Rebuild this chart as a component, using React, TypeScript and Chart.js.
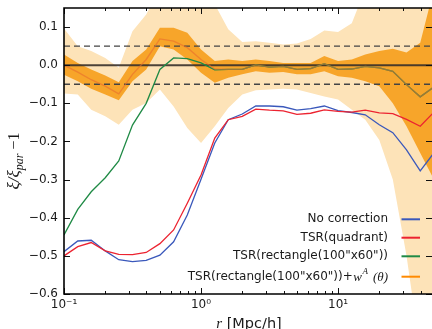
import React, { useEffect, useRef } from 'react';
import { Chart, registerables } from 'chart.js';

Chart.register(...registerables);

// ---- data ----
const R = [0.1, 0.126, 0.158, 0.2, 0.251, 0.316, 0.398, 0.501, 0.631, 0.794, 1.0, 1.26, 1.58, 2.0, 2.51, 3.16, 3.98, 5.01, 6.31, 7.94, 10.0, 12.6, 15.8, 20.0, 25.1, 31.6, 39.8, 50.1];

const NO_CORRECTION = [-0.489, -0.461, -0.459, -0.487, -0.510, -0.515, -0.512, -0.498, -0.463, -0.393, -0.299, -0.204, -0.143, -0.128, -0.107, -0.107, -0.109, -0.118, -0.114, -0.107, -0.119, -0.124, -0.130, -0.156, -0.177, -0.222, -0.277, -0.23];
const TSR_QUADRANT = [-0.500, -0.476, -0.465, -0.487, -0.496, -0.497, -0.491, -0.468, -0.432, -0.362, -0.288, -0.191, -0.143, -0.134, -0.115, -0.118, -0.120, -0.129, -0.126, -0.117, -0.121, -0.123, -0.118, -0.125, -0.127, -0.142, -0.160, -0.123];
const TSR_RECT = [-0.445, -0.378, -0.332, -0.295, -0.251, -0.157, -0.100, -0.011, 0.019, 0.017, 0.006, -0.012, -0.011, -0.011, 0.001, -0.005, -0.003, -0.011, -0.009, 0.004, -0.011, -0.010, -0.003, -0.007, -0.016, -0.051, -0.083, -0.057];
const TSR_RECT_WA = [0.0, -0.018, -0.038, -0.055, -0.075, -0.024, 0.015, 0.069, 0.063, 0.046, 0.015, -0.010, -0.011, -0.011, 0.001, -0.005, -0.003, -0.011, -0.009, 0.004, -0.011, -0.010, -0.003, -0.007, -0.016, -0.051, -0.083, -0.057];
const WA_INNER_HI = [0.028, 0.006, -0.011, -0.027, -0.045, 0.011, 0.041, 0.098, 0.098, 0.085, 0.041, 0.011, 0.015, 0.011, 0.015, 0.011, 0.006, 0.006, 0.006, 0.024, 0.011, 0.015, 0.028, 0.037, 0.043, 0.033, 0.059, 0.20];
const WA_INNER_LO = [-0.025, -0.042, -0.062, -0.077, -0.092, -0.042, -0.011, 0.050, 0.041, 0.015, -0.020, -0.046, -0.033, -0.024, -0.016, -0.020, -0.018, -0.024, -0.024, -0.016, -0.029, -0.033, -0.042, -0.055, -0.10, -0.16, -0.23, -0.30];
const WA_OUTER_HI = [0.096, 0.050, 0.037, 0.019, -0.007, 0.089, 0.133, 0.2, 0.2, 0.2, 0.2, 0.16, 0.094, 0.061, 0.063, 0.059, 0.054, 0.057, 0.069, 0.091, 0.087, 0.110, 0.2, 0.2, 0.2, 0.2, 0.2, 0.2];
const WA_OUTER_LO = [-0.074, -0.077, -0.117, -0.134, -0.156, -0.117, -0.099, -0.064, -0.108, -0.165, -0.204, -0.160, -0.112, -0.077, -0.066, -0.064, -0.062, -0.064, -0.073, -0.082, -0.090, -0.117, -0.143, -0.196, -0.30, -0.50, -0.75, -0.9];

const REF_ZERO = 0;
const REF_TOL = 0.05;

const X_MIN = 0.1;
const X_MAX = 48.5;
const Y_MIN = -0.6;
const Y_MAX = 0.15;
const X_TICKS = [0.1, 1, 10];
const X_TICK_LABELS = ['10\u207B\u00B9', '10\u2070', '10\u00B9'];
const X_MINOR_MULT = [2, 3, 4, 5, 6, 7, 8, 9];
const Y_TICKS = [0.1, 0.0, -0.1, -0.2, -0.3, -0.4, -0.5, -0.6];
const Y_TICK_LABELS = ['0.1', '0.0', '\u22120.1', '\u22120.2', '\u22120.3', '\u22120.4', '\u22120.5', '\u22120.6'];

const LEGEND_LABELS = ['No correction', 'TSR(quadrant)', 'TSR(rectangle(100"x60"))', 'TSR(rectangle(100"x60"))+'];

const C_BLUE = '#3a58bb';
const C_RED = '#ec2330';
const C_GREEN = '#1f8a45';
const C_ORANGE = '#ff8a00';
const C_LIGHT = '#fde3b8';
const C_DARK = '#f7a52a';

const SANS = '"DejaVu Sans", sans-serif';
const SERIF_IT = 'italic 15px "Liberation Serif", serif';

export default function App() {
  const ref = useRef<HTMLCanvasElement | null>(null);

  useEffect(() => {
    const canvas = ref.current;
    if (!canvas) return;
    const pts = (vals: number[]) => R.map((x, i) => ({ x, y: vals[i] }));
    const flat = (v: number) => R.map((x) => ({ x, y: v }));

    const decor = {
      id: 'decor',
      afterDraw(chart: any) {
        const ctx = chart.ctx as CanvasRenderingContext2D;
        const a = chart.chartArea;
        const xs = chart.scales.x;
        const ys = chart.scales.y;
        ctx.save();
        // ticks
        ctx.strokeStyle = '#111';
        ctx.lineWidth = 1;
        const vtick = (v: number, len: number) => {
          const px = Math.round(xs.getPixelForValue(v)) + 0.5;
          ctx.beginPath();
          ctx.moveTo(px, a.bottom);
          ctx.lineTo(px, a.bottom - len);
          ctx.moveTo(px, a.top);
          ctx.lineTo(px, a.top + len);
          ctx.stroke();
        };
        X_TICKS.forEach((d) => {
          vtick(d, 6);
          X_MINOR_MULT.forEach((m) => {
            if (d * m <= X_MAX) vtick(d * m, 3);
          });
        });
        Y_TICKS.forEach((v) => {
          const py = Math.round(ys.getPixelForValue(v)) + 0.5;
          ctx.beginPath();
          ctx.moveTo(a.left, py);
          ctx.lineTo(a.left + 6, py);
          ctx.moveTo(a.right, py);
          ctx.lineTo(a.right - 6, py);
          ctx.stroke();
        });
        // spines
        ctx.strokeStyle = '#000';
        ctx.lineWidth = 1.6;
        ctx.beginPath();
        ctx.moveTo(a.right + 2, a.top);
        ctx.lineTo(a.left, a.top);
        ctx.lineTo(a.left, a.bottom);
        ctx.lineTo(a.right + 2, a.bottom);
        ctx.stroke();

        // legend
        ctx.fillStyle = '#1a1a1a';
        ctx.textBaseline = 'middle';
        const rows = [219.3, 237.7, 256.3, 276.7];
        const cols = [C_BLUE, C_RED, C_GREEN, C_ORANGE];
        const textRight = 388;
        ctx.font = `12px ${SANS}`;
        ctx.textAlign = 'right';
        for (let i = 0; i < 3; i++) ctx.fillText(LEGEND_LABELS[i], textRight, rows[i]);
        // last row, composed right-to-left
        {
          let xr = textRight;
          const y = rows[3];
          ctx.font = 'italic 13px "Liberation Serif", serif';
          ctx.fillText('(\u03B8)', xr, y + 0.5);
          xr -= ctx.measureText('(\u03B8)').width + 5;
          ctx.font = 'italic 9px "Liberation Serif", serif';
          ctx.fillText('A', xr, y - 5);
          xr -= ctx.measureText('A').width + 0.5;
          ctx.font = 'italic 13px "Liberation Serif", serif';
          ctx.fillText('w', xr, y + 1);
          xr -= ctx.measureText('w').width + 0.5;
          ctx.font = `12px ${SANS}`;
          ctx.fillText(LEGEND_LABELS[3], xr, y);
        }
        ctx.lineWidth = 2;
        rows.forEach((y, i) => {
          ctx.strokeStyle = cols[i];
          ctx.beginPath();
          ctx.moveTo(401.5, y);
          ctx.lineTo(420, y);
          ctx.stroke();
        });

        // x axis title: r [Mpc/h]
        {
          ctx.textAlign = 'left';
          ctx.textBaseline = 'alphabetic';
          ctx.font = SERIF_IT;
          const wr = ctx.measureText('r').width;
          ctx.font = `14.5px ${SANS}`;
          const rest = ' [Mpc/h]';
          const wrest = ctx.measureText(rest).width;
          const x0 = (a.left + a.right) / 2 - (wr + wrest) / 2 + 1;
          const yb = 328;
          ctx.font = SERIF_IT;
          ctx.fillText('r', x0, yb);
          ctx.font = `14.5px ${SANS}`;
          ctx.fillText(rest, x0 + wr, yb);
        }
        // y axis title: xi/xi_par - 1 (rotated)
        {
          ctx.translate(19, 161);
          ctx.rotate(-Math.PI / 2);
          ctx.textAlign = 'left';
          ctx.textBaseline = 'alphabetic';
          const parts: [string, string, number][] = [
            ['\u03BE', 'italic 17px "Liberation Serif", serif', 0],
            ['/', 'italic 17px "Liberation Serif", serif', 0],
            ['\u03BE', 'italic 17px "Liberation Serif", serif', 0],
            ['par', 'italic 12px "Liberation Serif", serif', 3.5],
            [' \u2212', '16px "Liberation Serif", serif', 0],
            ['1', '16px "Liberation Serif", serif', 0],
          ];
          let total = 0;
          parts.forEach(([t, f]) => {
            ctx.font = f;
            total += ctx.measureText(t).width;
          });
          let x = -total / 2;
          parts.forEach(([t, f, dy]) => {
            ctx.font = f;
            ctx.fillText(t, x, dy);
            x += ctx.measureText(t).width;
          });
        }
        ctx.restore();
      },
    };

    const chart = new Chart(canvas, {
      type: 'line',
      data: {
        datasets: [
          { label: 'outer hi', data: pts(WA_OUTER_HI), fill: '+1', backgroundColor: C_LIGHT, borderWidth: 0, pointRadius: 0, order: 30 },
          { label: 'outer lo', data: pts(WA_OUTER_LO), fill: false, borderWidth: 0, pointRadius: 0, order: 29 },
          { label: 'inner hi', data: pts(WA_INNER_HI), fill: '+1', backgroundColor: C_DARK, borderWidth: 0, pointRadius: 0, order: 28 },
          { label: 'inner lo', data: pts(WA_INNER_LO), fill: false, borderWidth: 0, pointRadius: 0, order: 27 },
          { label: 'zero', data: flat(REF_ZERO), borderColor: 'rgba(55,48,42,0.9)', borderWidth: 2, pointRadius: 0, fill: false, order: 20 },
          { label: 'tol+', data: flat(REF_TOL), borderColor: '#444', borderWidth: 1.4, borderDash: [6, 4], pointRadius: 0, fill: false, order: 19 },
          { label: 'tol-', data: flat(-REF_TOL), borderColor: '#444', borderWidth: 1.4, borderDash: [6, 4], pointRadius: 0, fill: false, order: 18 },
          { label: 'TSR(rectangle)', data: pts(TSR_RECT), borderColor: C_GREEN, borderWidth: 1.3, pointRadius: 0, fill: false, order: 6 },
          { label: 'TSR(rectangle)+wA', data: pts(TSR_RECT_WA), borderColor: 'rgba(232,110,45,0.62)', borderWidth: 1.3, pointRadius: 0, fill: false, order: 5 },
          { label: 'No correction', data: pts(NO_CORRECTION), borderColor: C_BLUE, borderWidth: 1.3, pointRadius: 0, fill: false, order: 4 },
          { label: 'TSR(quadrant)', data: pts(TSR_QUADRANT), borderColor: C_RED, borderWidth: 1.3, pointRadius: 0, fill: false, order: 3 },
        ],
      },
      options: {
        animation: false,
        responsive: false,
        devicePixelRatio: 1,
        parsing: true,
        layout: { padding: { top: 8, left: 0, right: 0, bottom: 0 } },
        elements: { line: { tension: 0 }, point: { radius: 0 } },
        plugins: {
          legend: { display: false },
          tooltip: { enabled: false },
          filler: { propagate: false },
        },
        scales: {
          x: {
            type: 'logarithmic',
            min: X_MIN,
            max: X_MAX,
            grid: { display: false, drawTicks: false },
            border: { display: false },
            ticks: {
              autoSkip: false,
              maxRotation: 0,
              padding: 4,
              color: '#1a1a1a',
              font: { family: 'DejaVu Sans', size: 12 },
              callback: (_v: any, i: number) => X_TICK_LABELS[i],
            },
            afterBuildTicks: (s: any) => {
              s.ticks = X_TICKS.map((v) => ({ value: v }));
            },
            afterFit: (s: any) => {
              s.height = 35;
              s.paddingLeft = 0;
              s.paddingRight = 0;
            },
          },
          y: {
            type: 'linear',
            min: Y_MIN,
            max: Y_MAX,
            grid: { display: false, drawTicks: false },
            border: { display: false },
            ticks: {
              padding: 6,
              color: '#1a1a1a',
              font: { family: 'DejaVu Sans', size: 12 },
              callback: (_v: any, i: number) => Y_TICK_LABELS[i],
            },
            afterBuildTicks: (s: any) => {
              s.ticks = Y_TICKS.map((v) => ({ value: v }));
            },
            afterFit: (s: any) => {
              s.width = 64;
              s.paddingTop = 0;
              s.paddingBottom = 0;
            },
          },
        },
      },
      plugins: [decor],
    } as any);
    return () => chart.destroy();
  }, []);

  return (
    <div style={{ position: 'absolute', left: 0, top: 0, width: 432, height: 329 }}>
      <canvas ref={ref} width={432} height={329} style={{ display: 'block' }} />
    </div>
  );
}
